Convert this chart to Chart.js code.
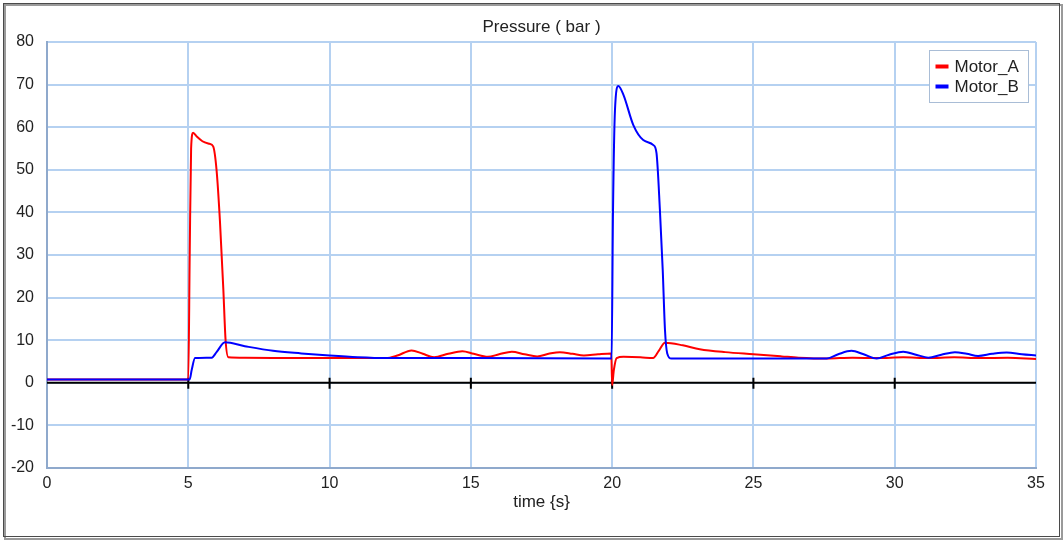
<!DOCTYPE html>
<html lang="en">
<head>
  <meta charset="UTF-8">
  <title>Pressure ( bar )</title>
  <script src="https://cdn.jsdelivr.net/npm/chart.js"></script>
  <style>
    html, body { margin: 0; padding: 0; background: #fff; }
    #wrap { width: 1063px; height: 540px; }
  </style>
</head>
<body>
  <div id="wrap"><canvas id="pressureChart" width="1063" height="540"></canvas></div>
  <script>
    // values
    const timeA = [0, 5.0, 5.05, 5.1, 5.17, 5.3, 5.5, 5.75, 5.88, 6.0, 6.12, 6.24, 6.32, 6.42, 7.0, 9.0, 12.0,
      12.4, 12.9, 13.3, 13.7, 14.2, 14.7, 15.1, 15.6, 16.0, 16.45, 16.9, 17.35, 17.75, 18.15, 18.6, 19.0, 19.5, 19.97,
      20.0, 20.06, 20.16, 20.4, 21.0, 21.45, 21.65, 21.87, 22.5, 23.1, 24.0, 25.0, 26.0, 26.6, 27.6,
      28.5, 29.4, 30.3, 31.2, 32.1, 33.0, 34.0, 35.0];
    const motorA = [0.8, 0.8, 30, 55, 58.7, 57.8, 56.7, 56.1, 55.5, 50, 38, 22, 10, 6, 5.9, 5.8, 5.8,
      6.4, 7.6, 6.8, 6.0, 6.8, 7.4, 6.8, 6.1, 6.7, 7.3, 6.7, 6.2, 6.8, 7.2, 6.8, 6.4, 6.7, 6.9,
      -0.5, 3, 5.8, 6.1, 6.0, 5.8, 7.5, 9.4, 8.8, 7.9, 7.2, 6.7, 6.2, 5.9, 5.7,
      5.9, 5.8, 6.0, 5.8, 6.0, 5.8, 5.9, 5.6];

    const timeB = [0, 5.05, 5.12, 5.24, 5.83, 6.0, 6.3, 7.0, 8.0, 9.0, 10.0, 11.0, 12.0, 15.0, 19.98,
      20.03, 20.1, 20.22, 20.4, 20.75, 21.1, 21.46, 21.57, 21.69, 21.79, 21.87, 21.95, 22.1, 27.6,
      28.0, 28.47, 28.9, 29.36, 29.8, 30.3, 30.75, 31.19, 31.65, 32.13, 32.55, 32.95, 33.45, 33.96, 34.5, 35.0];
    const motorB = [0.8, 0.8, 3, 5.8, 5.9, 7.2, 9.5, 8.6, 7.5, 6.9, 6.4, 6.0, 5.8, 5.8, 5.7,
      40, 64, 69.7, 67.6, 60.5, 57, 55.8, 53.9, 40.6, 26.5, 12.4, 6.9, 5.7, 5.7,
      6.7, 7.5, 6.7, 5.7, 6.6, 7.3, 6.6, 5.9, 6.6, 7.2, 6.8, 6.3, 6.8, 7.1, 6.7, 6.4];

    const seriesNames = ['Motor_A', 'Motor_B'];
    const seriesColors = ['#ff0000', '#0000ff'];
    const chartTitle = 'Pressure ( bar )';
    const xTitle = 'time {s}';

    const FONT = "'Liberation Sans', Arial, sans-serif";

    function toPoints(xs, ys) {
      return xs.map((x, i) => ({ x: x, y: ys[i] }));
    }

    // frame, title, axis label, zero line and legend box
    const decorations = {
      id: 'decorations',
      beforeDraw(chart) {
        const c = chart.ctx;
        c.save();
        c.fillStyle = '#fff';
        c.fillRect(0, 0, chart.width, chart.height);
        c.strokeStyle = '#9a9a9a';
        c.lineWidth = 2;
        c.strokeRect(5, 5, chart.width - 6, chart.height - 6);
        c.strokeStyle = '#4a4a4a';
        c.lineWidth = 1;
        c.strokeRect(3.5, 3.5, chart.width - 7, chart.height - 7);
        c.restore();
      },
      beforeDatasetsDraw(chart) {
        const c = chart.ctx;
        const a = chart.chartArea;
        const y0 = chart.scales.y.getPixelForValue(0);
        c.save();
        c.strokeStyle = '#000';
        c.lineWidth = 2;
        c.beginPath();
        c.moveTo(a.left, y0);
        c.lineTo(a.right, y0);
        chart.scales.x.ticks.forEach(t => {
          if (t.value <= 0 || t.value >= 35) return;
          const px = chart.scales.x.getPixelForValue(t.value);
          c.moveTo(px, y0 - 5);
          c.lineTo(px, y0 + 6);
        });
        c.stroke();
        c.restore();
      },
      afterDraw(chart) {
        const c = chart.ctx;
        const a = chart.chartArea;
        const mid = (a.left + a.right) / 2;
        c.save();
        c.fillStyle = '#222';
        c.font = '17px ' + FONT;
        c.textAlign = 'center';
        c.textBaseline = 'middle';
        c.fillText(chartTitle, mid, a.top - 15);
        c.fillText(xTitle, mid, a.bottom + 34);

        // legend inside plot, top-right
        const bx = a.right - 106.5, by = a.top + 8.5, bw = 99, bh = 52;
        c.fillStyle = '#fff';
        c.fillRect(bx, by, bw, bh);
        c.strokeStyle = '#a9bdd6';
        c.lineWidth = 1;
        c.strokeRect(bx, by, bw, bh);
        c.textAlign = 'left';
        chart.data.datasets.forEach((ds, i) => {
          const cy = by + 16 + i * 20;
          c.fillStyle = ds.borderColor;
          c.fillRect(bx + 6, cy - 2, 13, 4);
          c.fillStyle = '#222';
          c.fillText(ds.label, bx + 25, cy + 1);
        });
        c.restore();
      }
    };

    const ctx = document.getElementById('pressureChart').getContext('2d');
    new Chart(ctx, {
      type: 'line',
      data: {
        datasets: [
          {
            label: seriesNames[0],
            data: toPoints(timeA, motorA),
            borderColor: seriesColors[0],
            backgroundColor: seriesColors[0],
            borderWidth: 2,
            pointRadius: 0,
            order: 1,
            cubicInterpolationMode: 'monotone'
          },
          {
            label: seriesNames[1],
            data: toPoints(timeB, motorB),
            borderColor: seriesColors[1],
            backgroundColor: seriesColors[1],
            borderWidth: 2,
            pointRadius: 0,
            order: 0,
            cubicInterpolationMode: 'monotone'
          }
        ]
      },
      options: {
        responsive: false,
        animation: false,
        layout: { padding: { top: 42, right: 27, bottom: 42, left: 0 } },
        plugins: {
          legend: { display: false },
          title: { display: false },
          tooltip: { enabled: false }
        },
        scales: {
          x: {
            type: 'linear',
            min: 0,
            max: 35,
            afterFit(scale) { scale.height = 30; },
            ticks: {
              stepSize: 5,
              maxRotation: 0,
              padding: 6,
              color: '#222',
              font: { family: FONT, size: 16 }
            },
            grid: { color: '#b5d1f1', lineWidth: 2, drawTicks: false },
            border: { color: '#8fa9cc', width: 2 }
          },
          y: {
            min: -20,
            max: 80,
            afterFit(scale) { scale.width = 47; },
            ticks: {
              stepSize: 10,
              padding: 13,
              color: '#222',
              font: { family: FONT, size: 16 }
            },
            grid: { color: '#b5d1f1', lineWidth: 2, drawTicks: false },
            border: { color: '#8fa9cc', width: 2 }
          }
        }
      },
      plugins: [decorations]
    });
  </script>
</body>
</html>
